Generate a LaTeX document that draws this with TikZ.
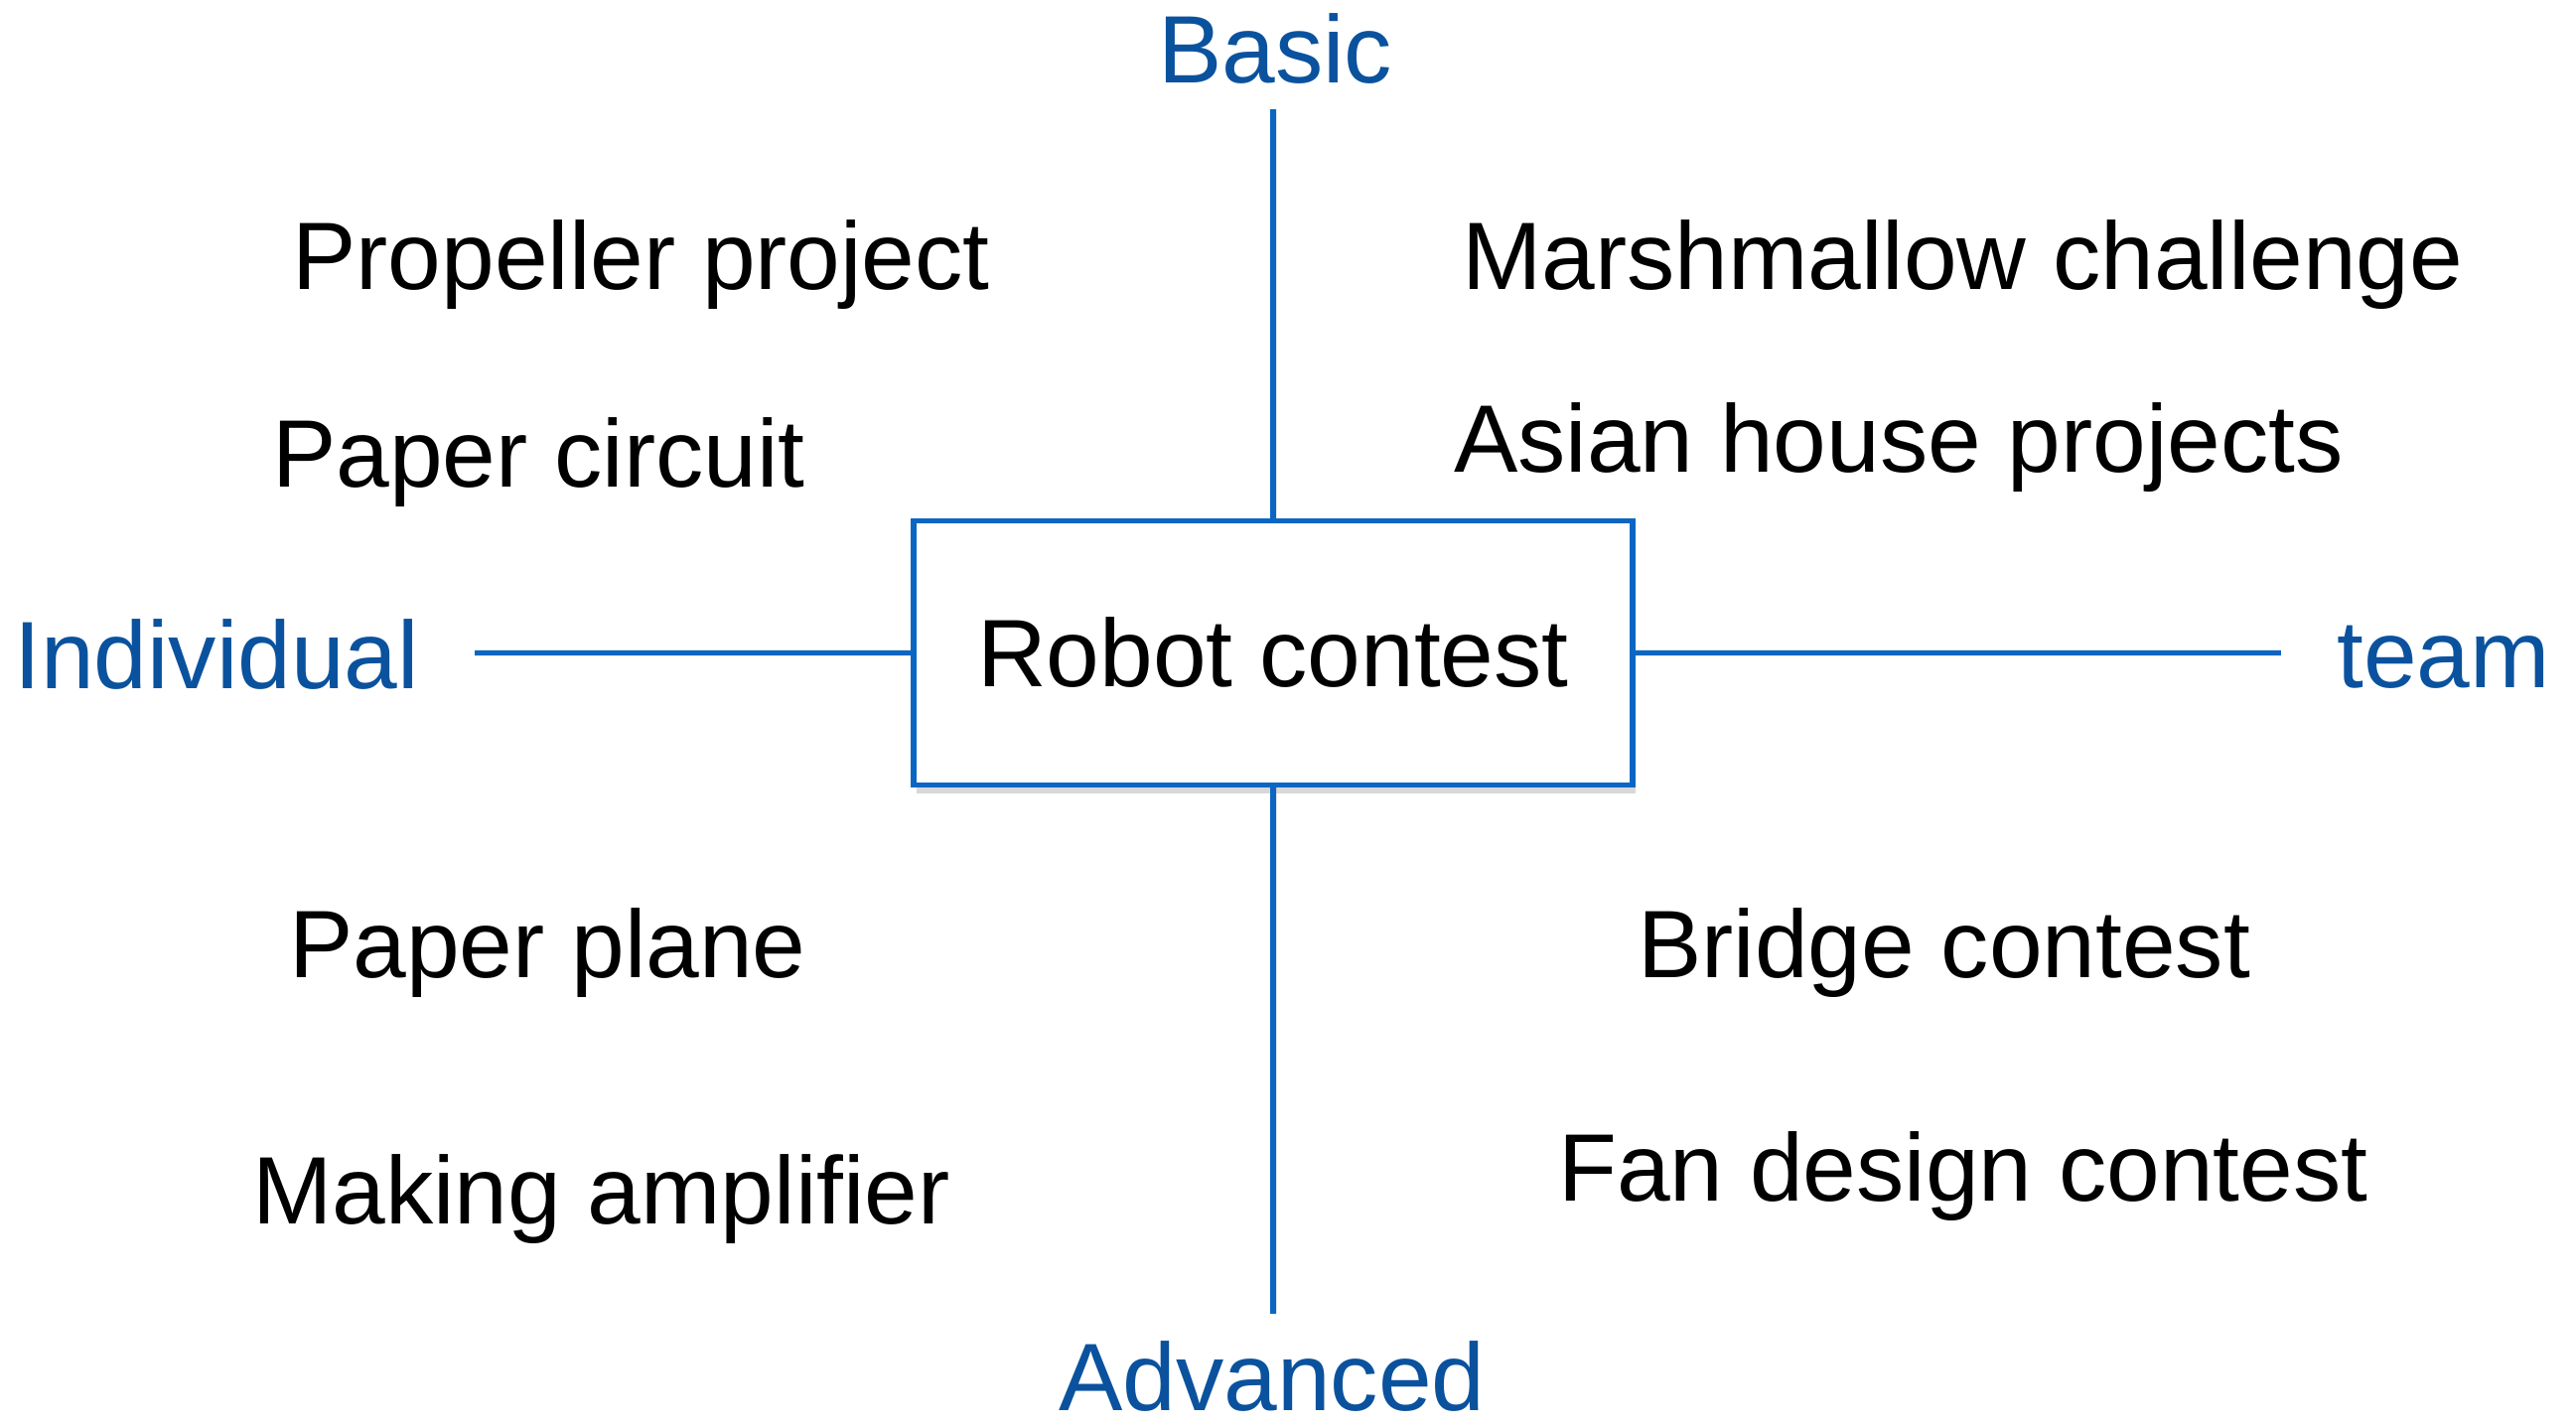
\documentclass[tikz,border=0pt]{standalone}
\usepackage{fontspec}
\setmainfont{Liberation Sans}
\usetikzlibrary{shadows}
\definecolor{textblue}{RGB}{10,82,158}
\definecolor{lineblue}{RGB}{10,102,194}
\begin{document}
\begin{tikzpicture}[x=1pt,y=-1pt,
  every node/.style={inner sep=0pt,font=\fontsize{96.5}{116}\selectfont},
  axislabel/.style={text=textblue,anchor=base},
  item/.style={text=black,anchor=base west},
  centerbox/.style={draw=lineblue,line width=5.5pt,fill=white,minimum width=724pt,minimum height=266pt,
    drop shadow={shadow xshift=3pt,shadow yshift=-8pt,opacity=0.3,fill=gray}},
  axisline/.style={draw=lineblue,line width=5.5pt},
  lineshadow/.style={draw=gray,line width=7pt,opacity=0.18}]
\useasboundingbox (0,0) rectangle (2594,1437);
\fill[white] (0,0) rectangle (2594,1437);
% axis end points
\coordinate (top) at (1282,110);
\coordinate (bottom) at (1282,1323);
\coordinate (left) at (478,657.5);
\coordinate (right) at (2297,657.5);
% shadows of the axis lines
\begin{scope}[shift={(3,6)}]
\draw[lineshadow] (top) -- (bottom);
\draw[lineshadow] (left) -- (right);
\end{scope}
% centre box
\node[centerbox] (robot) at (1282,657.5) {Robot contest};
\draw[axisline] (robot.north) -- (top);
\draw[axisline] (robot.south) -- (bottom);
\draw[axisline] (robot.west) -- (left);
\draw[axisline] (robot.east) -- (right);
% axis labels
\node[axislabel] (basic) at (1284,83) {Basic};
\node[axislabel] (advanced) at (1281,1420) {Advanced};
\node[axislabel,anchor=base west] (individual) at (14,693) {Individual};
\node[axislabel,anchor=base east] (team) at (2568,692) {team};
% quadrant items
\node[item] (propeller) at (294,291) {Propeller project};
\node[item] (circuit) at (274,490) {Paper circuit};
\node[item] (marsh) at (1472,291) {Marshmallow challenge};
\node[item] (asian) at (1464,475) {Asian house projects};
\node[item] (plane) at (291,984) {Paper plane};
\node[item] (bridge) at (1649,984) {Bridge contest};
\node[item] (amp) at (254,1232) {Making amplifier};
\node[item] (fan) at (1569,1209) {Fan design contest};
\end{tikzpicture}
\end{document}
